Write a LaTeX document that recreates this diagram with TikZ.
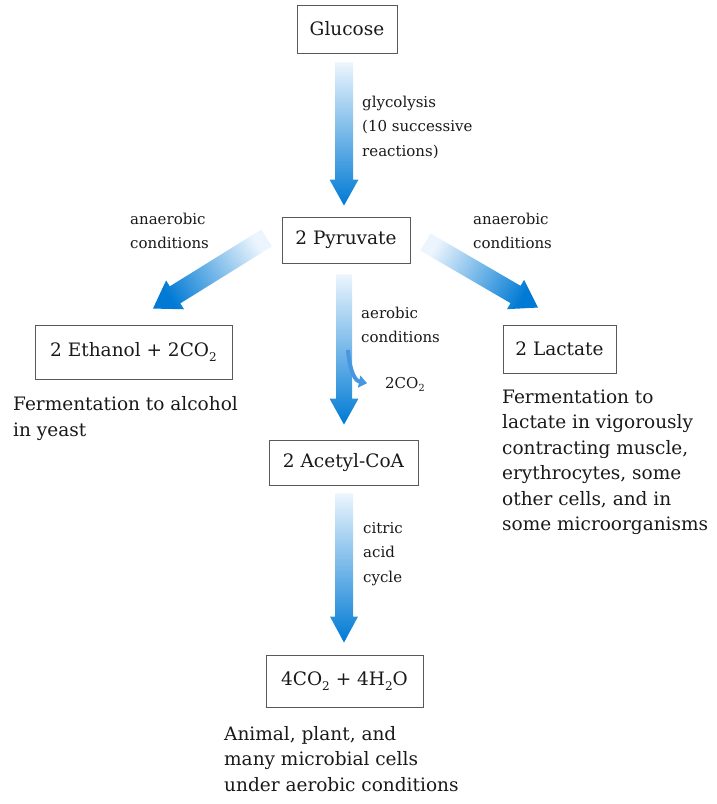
\documentclass[tikz,border=0pt]{standalone}
\usepackage{fontspec}
\setmainfont{DejaVu Serif}
\usepackage{tikz}
\usetikzlibrary{arrows.meta,calc}

\definecolor{flowtip}{RGB}{0,122,212}
\definecolor{flowtail}{RGB}{236,245,253}
\definecolor{flowmid}{RGB}{70,150,225}
% wide shaded arrow: tail, tip, shading angle, half shaft, half head
\newcommand{\flowarrow}[5]{%
	\coordinate (fa-h) at ($(#2)!26pt!(#1)$);
	\shade[arrowshade, shading angle=#3]
		($(#1)!#4!90:(#2)$) -- ($(fa-h)!#4!-90:(#1)$) -- ($(fa-h)!#5!-90:(#1)$) -- (#2)
		-- ($(fa-h)!#5!90:(#1)$) -- ($(fa-h)!#4!90:(#1)$) -- ($(#1)!#4!-90:(#2)$) -- cycle;
}
\newcommand{\lowsub}[1]{\raisebox{-0.45ex}{\scalebox{0.65}{#1}}}

\begin{document}
\begin{tikzpicture}[x=1pt, y=-1pt, every node/.style={text=black!90},
	box/.style={draw=black!65, line width=0.9pt, inner sep=0pt, font=\fontsize{18.5}{22}\selectfont},
	cond/.style={anchor=west, align=left, inner sep=0pt, font=\fontsize{15}{24.5}\selectfont},
	desc/.style={anchor=west, align=left, inner sep=0pt, font=\fontsize{18.5}{25.5}\selectfont},
	arrowshade/.style={top color=flowtail, bottom color=flowtip}]
	\useasboundingbox (0,0) rectangle (717,804);

	% compounds
	\node[box, minimum width=100pt, minimum height=48pt] (glucose) at (347,29) {Glucose};
	\node[box, minimum width=128pt, minimum height=46pt] (pyruvate) at (346,240) {2 Pyruvate};
	\node[box, minimum width=197pt, minimum height=54pt] (ethanol) at (133.5,352) {2 Ethanol + 2CO\lowsub{2}};
	\node[box, minimum width=113pt, minimum height=48pt] (lactate) at (559.5,349) {2 Lactate};
	\node[box, minimum width=149pt, minimum height=45pt] (acetyl) at (343.5,462.5) {2 Acetyl-CoA};
	\node[box, minimum width=157pt, minimum height=52pt] (water) at (344.5,681) {4CO\lowsub{2} + 4H\lowsub{2}O};

	% arrow ends
	\coordinate (glyTail) at ($(glucose.south)+(-3,9)$);
	\coordinate (glyTip) at ($(pyruvate.north)+(-2,-11)$);
	\coordinate (ethTail) at ($(pyruvate.west)+(-15,-2)$);
	\coordinate (ethTip) at ($(ethanol.north)+(19.5,-16)$);
	\coordinate (lacTail) at ($(pyruvate.east)+(15,2)$);
	\coordinate (lacTip) at ($(lactate.north)+(-21.5,-17)$);
	\coordinate (aerTail) at ($(pyruvate.south)+(-2,11)$);
	\coordinate (aerTip) at ($(acetyl.north)+(0.5,-15)$);
	\coordinate (citTail) at ($(acetyl.south)+(0.5,8)$);
	\coordinate (citTip) at ($(water.north)+(-0.5,-12)$);

	\flowarrow{glyTail}{glyTip}{0}{9pt}{14.5pt}
	\flowarrow{ethTail}{ethTip}{-58.1}{10pt}{17pt}
	\flowarrow{lacTail}{lacTip}{59.7}{10pt}{17pt}
	\flowarrow{aerTail}{aerTip}{0}{8pt}{14.5pt}
	\flowarrow{citTail}{citTip}{0}{9pt}{14pt}

	% CO2 given off on the way to acetyl-CoA
	\node[anchor=base west, inner sep=0pt, font=\fontsize{15}{20}\selectfont] (co2out) at (385,388) {2CO\lowsub{2}};
	\coordinate (branch) at (348,350);
	\draw[flowmid, line width=4pt, -{Triangle[length=8pt, width=12pt]}]
		(branch) .. controls (350,374) and (356,381) .. ($(co2out.west)+(-18,-1)$);

	% conditions on the arrows
	\node[cond] at (362,127) {glycolysis\\(10 successive\\reactions)};
	\node[cond] at (130,231) {anaerobic\\conditions};
	\node[cond] at (473,231) {anaerobic\\conditions};
	\node[cond] at (361,325) {aerobic\\conditions};
	\node[cond] at (363,554) {citric\\acid\\cycle};

	% where it happens
	\node[desc] at (13,418.5) {Fermentation to alcohol\\in yeast};
	\node[desc] at (502,462) {Fermentation to\\lactate in vigorously\\contracting muscle,\\erythrocytes, some\\other cells, and in\\some microorganisms};
	\node[desc] at (224,759) {Animal, plant, and\\many microbial cells\\under aerobic conditions};
\end{tikzpicture}
\end{document}
